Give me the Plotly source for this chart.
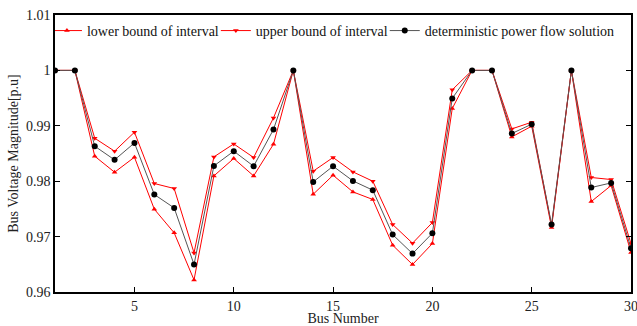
import plotly.graph_objects as go

bus = list(range(1, 31))
lower = [1.0, 1.0, 0.98451, 0.98162, 0.98433, 0.97495, 0.97068, 0.96218, 0.98096, 0.98410,
         0.98096, 0.98668, 1.0, 0.97765, 0.98108, 0.97807, 0.97670, 0.96845, 0.96496, 0.96874,
         0.99312, 1.0, 1.0, 0.98800, 0.98993, 0.97164, 1.0, 0.97633, 0.97922, 0.96715]
upper = [1.0, 1.0, 0.98776, 0.98542, 0.98884, 0.97958, 0.97868, 0.96706, 0.98439, 0.98673,
         0.98428, 0.99143, 1.0, 0.98181, 0.98428, 0.98168, 0.98000, 0.97218, 0.96881, 0.97254,
         0.99650, 1.0, 1.0, 0.98944, 0.99065, 0.97200, 1.0, 0.98067, 0.98030, 0.96874]
det = [1.0, 1.0, 0.98632, 0.98385, 0.98691, 0.97760, 0.97518, 0.96496, 0.98276, 0.98542,
       0.98271, 0.98933, 1.0, 0.97987, 0.98271, 0.98005, 0.97838, 0.97036, 0.96693, 0.97061,
       0.99495, 1.0, 1.0, 0.98861, 0.99029, 0.97218, 1.0, 0.97886, 0.97969, 0.96789]

y_ticks = [0.96, 0.97, 0.98, 0.99, 1.0, 1.01]
y_tick_labels = ["0.96", "0.97", "0.98", "0.99", "1", "1.01"]
x_ticks = [5, 10, 15, 20, 25, 30]

font = "Liberation Serif, Times New Roman, serif"

fig = go.Figure()
fig.add_trace(go.Scatter(x=bus, y=lower, mode="lines+markers", name="lower bound of interval",
                         line=dict(color="#ff0000", width=1),
                         marker=dict(symbol="triangle-up", size=5, color="#ff0000")))
fig.add_trace(go.Scatter(x=bus, y=upper, mode="lines+markers", name="upper bound of interval",
                         line=dict(color="#ff0000", width=1),
                         marker=dict(symbol="triangle-down", size=5, color="#ff0000")))
fig.add_trace(go.Scatter(x=bus, y=det, mode="lines+markers", name="deterministic power flow solution",
                         line=dict(color="#555555", width=1),
                         marker=dict(symbol="circle", size=6, color="#000000")))

axis_common = dict(showline=True, linecolor="black", linewidth=1.5, mirror="ticks",
                   ticks="inside", ticklen=5, tickcolor="black", showgrid=False, zeroline=False,
                   automargin=False, ticklabeloverflow="allow",
                   tickfont=dict(family=font, size=14, color="#222"))

fig.update_layout(
    width=637, height=326,
    margin=dict(l=55, r=6, t=15, b=34),
    paper_bgcolor="white", plot_bgcolor="white",
    font=dict(family=font, size=14, color="#222"),
    showlegend=True,
    legend=dict(orientation="h", x=-0.0001, y=1.0001, xanchor="left", yanchor="top",
                bgcolor="rgba(255,255,255,1)", font=dict(family=font, size=14, color="#111"),
                itemwidth=30, indentation=-8, tracegroupgap=0),
    xaxis=dict(range=[1, 30], tickvals=x_ticks,
               title=dict(text="Bus Number", font=dict(family=font, size=14), standoff=0),
               **axis_common),
    yaxis=dict(range=[0.96, 1.01], tickvals=y_ticks, ticktext=y_tick_labels,
               title=dict(text="Bus Voltage Magnitude[p.u]", font=dict(family=font, size=14), standoff=4),
               **axis_common),
)

fig.write_html("out.html", config={"displayModeBar": False},
               post_script="document.body.style.margin='0';document.body.style.overflow='hidden';")
